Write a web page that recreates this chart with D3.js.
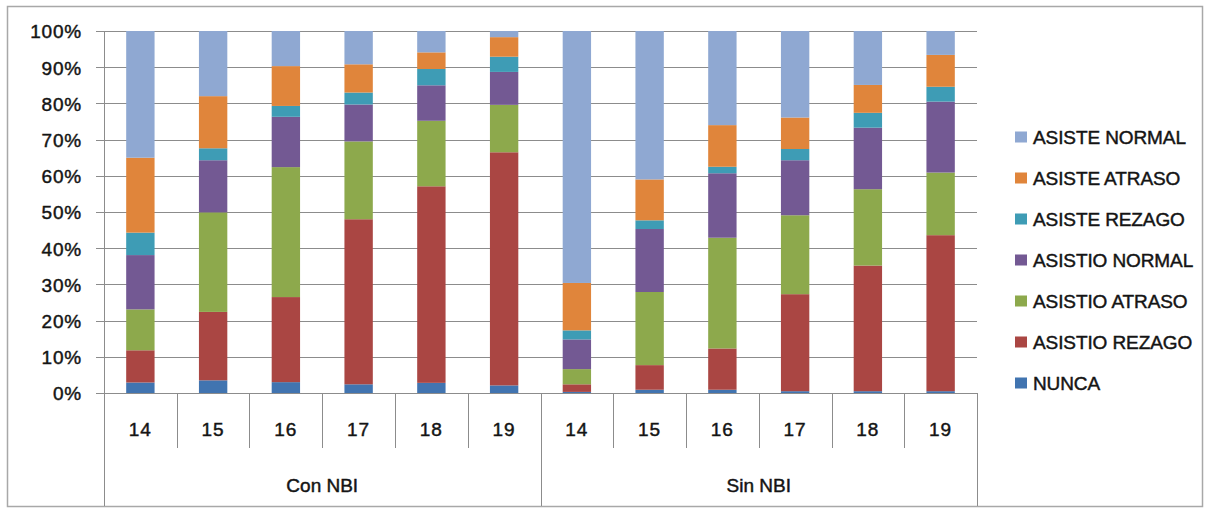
<!DOCTYPE html>
<html>
<head>
<meta charset="utf-8">
<script src="https://cdn.jsdelivr.net/npm/d3@7"></script>
<style>
  html, body { margin: 0; padding: 0; background: #fff; }
  svg { display: block; }
  text { font-family: "Liberation Sans", Arial, sans-serif; fill: #141414; stroke: #141414; stroke-width: 0.45px; }
</style>
</head>
<body>
<svg id="chart" width="1207" height="512"></svg>
<script>
// ---- data ----
const groups = ["Con NBI", "Sin NBI"];
const ages = ["14", "15", "16", "17", "18", "19"];
const seriesNames = ["NUNCA", "ASISTIO REZAGO", "ASISTIO ATRASO", "ASISTIO NORMAL", "ASISTE REZAGO", "ASISTE ATRASO", "ASISTE NORMAL"];
const seriesColors = ["#4174B0", "#AA4643", "#8DA94C", "#735993", "#3E9CB5", "#E0853B", "#8FA8D2"];
// values per series (%), order: Con 14..19, Sin 14..19
const nunca         = [2.9, 3.5, 3.0, 2.4, 2.8, 2.1, 0.3, 0.9, 0.9, 0.5, 0.5, 0.5];
const asistioRezago = [8.9, 18.9, 23.5, 45.6, 54.3, 64.4, 2.1, 6.8, 11.4, 26.8, 34.7, 43.1];
const asistioAtraso = [11.3, 27.5, 35.9, 21.5, 18.1, 13.1, 4.2, 20.2, 30.6, 21.8, 21.1, 17.3];
const asistioNormal = [15.0, 14.4, 13.9, 10.2, 9.8, 9.1, 8.2, 17.4, 17.8, 15.2, 17.0, 19.6];
const asisteRezago  = [6.2, 3.3, 3.0, 3.3, 4.5, 4.2, 2.5, 2.4, 1.8, 3.1, 4.1, 4.1];
const asisteAtraso  = [20.7, 14.4, 11.0, 7.8, 4.6, 5.4, 13.1, 11.3, 11.5, 8.7, 7.7, 8.8];
const asisteNormal  = [35.0, 18.0, 9.7, 9.2, 5.9, 1.7, 69.6, 41.0, 26.0, 23.9, 14.9, 6.6];
const yTicks = [0, 0.1, 0.2, 0.3, 0.4, 0.5, 0.6, 0.7, 0.8, 0.9, 1.0];

// ---- build table ----
const seriesValues = [nunca, asistioRezago, asistioAtraso, asistioNormal, asisteRezago, asisteAtraso, asisteNormal];
const rows = [];
groups.forEach((g, gi) => ages.forEach((a, ai) => {
  const idx = gi * ages.length + ai;
  const r = { key: g + "|" + a, group: g, age: a };
  seriesNames.forEach((s, si) => r[s] = seriesValues[si][idx]);
  rows.push(r);
}));

const svg = d3.select("#chart");
const plotL = 104, plotR = 977, plotT = 31, plotB = 393;

const x = d3.scaleBand().domain(rows.map(r => r.key)).range([plotL, plotR])
  .paddingInner(0.61).paddingOuter(0.305);
const y = d3.scaleLinear().domain([0, 1]).range([plotB, plotT]);
const color = d3.scaleOrdinal().domain(seriesNames).range(seriesColors);

const stack = d3.stack().keys(seriesNames).offset(d3.stackOffsetExpand);
const stacked = stack(rows);

// outer border
svg.append("rect").attr("x", 7.5).attr("y", 6.5).attr("width", 1195).attr("height", 500)
  .attr("fill", "none").attr("stroke", "#A8A8A8").attr("stroke-width", 1.5);

// gridlines
const gridG = svg.append("g");
yTicks.forEach(t => {
  gridG.append("line").attr("x1", plotL - 8).attr("x2", plotR)
    .attr("y1", Math.round(y(t)) + 0.5).attr("y2", Math.round(y(t)) + 0.5)
    .attr("stroke", "#8C8C8C").attr("stroke-width", 1);
});

// y-axis labels via d3 axis
const yAxis = d3.axisLeft(y).tickValues(yTicks).tickFormat(d3.format(".0%")).tickSize(0).tickPadding(0);
const yg = svg.append("g").attr("transform", `translate(${82},0)`).call(yAxis);
yg.select(".domain").remove();
yg.selectAll("text").attr("font-size", 19).attr("font-family", "Liberation Sans, Arial, sans-serif")
  .attr("fill", "#141414").attr("letter-spacing", "0.8px")
  .attr("dy", "0.36em");

// bars
svg.append("g").selectAll("g").data(stacked).join("g")
  .attr("fill", d => color(d.key))
  .selectAll("rect").data(d => d).join("rect")
  .attr("x", d => x(d.data.key))
  .attr("width", x.bandwidth())
  .attr("y", d => y(d[1]))
  .attr("height", d => y(d[0]) - y(d[1]));

// axis lines
const axisColor = "#8C8C8C";
svg.append("line").attr("x1", plotL + 0.5).attr("x2", plotL + 0.5).attr("y1", plotT).attr("y2", 506)
  .attr("stroke", axisColor);
svg.append("line").attr("x1", plotL).attr("x2", plotR).attr("y1", plotB + 0.5).attr("y2", plotB + 0.5)
  .attr("stroke", axisColor);

// category dividers
const step = x.step();
rows.forEach((r, i) => {
  if (i === 0) return;
  const xx = Math.round(x(r.key) - x.paddingInner() * step / 2) + 0.5;
  const isGroupEdge = i % ages.length === 0;
  svg.append("line").attr("x1", xx).attr("x2", xx).attr("y1", plotB)
    .attr("y2", isGroupEdge ? 506 : 448).attr("stroke", axisColor);
});
svg.append("line").attr("x1", plotR + 0.5).attr("x2", plotR + 0.5).attr("y1", plotB)
  .attr("y2", 506).attr("stroke", axisColor);

// age labels
svg.append("g").selectAll("text").data(rows).join("text")
  .attr("x", d => x(d.key) + x.bandwidth() / 2)
  .attr("y", 436)
  .attr("text-anchor", "middle")
  .attr("font-size", 19).attr("letter-spacing", "1px")
  .text(d => d.age);

// group labels
groups.forEach((g) => {
  const first = x(g + "|" + ages[0]), last = x(g + "|" + ages[ages.length - 1]) + x.bandwidth();
  svg.append("text").attr("x", (first + last) / 2).attr("y", 492)
    .attr("text-anchor", "middle").attr("font-size", 19)
    .text(g);
});

// legend (top to bottom = reverse series order)
const legendNames = seriesNames.slice().reverse();
const lg = svg.append("g");
legendNames.forEach((s, i) => {
  const cy = 137.5 + i * 41;
  lg.append("rect").attr("x", 1015).attr("y", cy - 6).attr("width", 12).attr("height", 11)
    .attr("fill", color(s));
  lg.append("text").attr("x", 1033).attr("y", cy).attr("dy", "0.36em")
    .attr("font-size", 19).attr("letter-spacing", "-0.1px").text(s);
});
</script>
</body>
</html>
